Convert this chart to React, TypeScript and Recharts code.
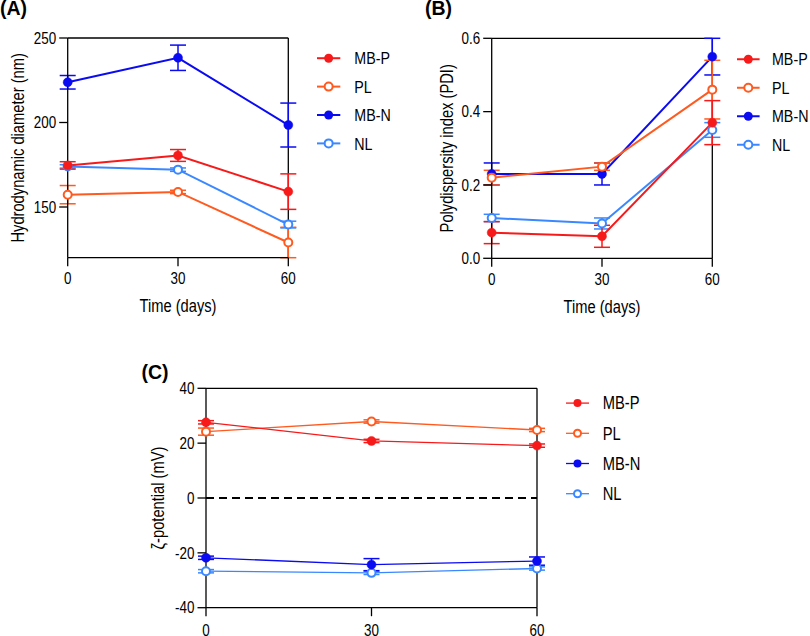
import React from 'react';
import { LineChart, Line, XAxis, YAxis, ErrorBar, ReferenceLine, Legend } from 'recharts';

// Sampling times (days) shared by every panel
const days = [0, 30, 60];

// Formulations, in legend order
const seriesNames = ['MB-P', 'PL', 'MB-N', 'NL'];
const seriesColors = ['#f71a1a', '#ff5a1f', '#0b0bf2', '#3a88ff'];
const seriesHollow = [false, true, false, true];

// (A) Hydrodynamic diameter (nm), mean and SD
const sizeMBP = [174.6, 180.5, 159.1];
const sizeMBPErr = [2.2, 3.5, 10.5];
const sizePL = [157.3, 158.9, 129];
const sizePLErr = [5.4, 1, 9];
const sizeMBN = [223.8, 238.3, 198.5];
const sizeMBNErr = [4, 7.5, 13];
const sizeNL = [174, 172.1, 139.6];
const sizeNLErr = [1, 1, 2];
const sizeTicks = [150, 200, 250];

// (B) Polydispersity index, mean and SD
const pdiMBP = [0.07, 0.06, 0.37];
const pdiMBPErr = [0.03, 0.03, 0.06];
const pdiPL = [0.22, 0.25, 0.46];
const pdiPLErr = [0.02, 0.01, 0.08];
const pdiMBN = [0.23, 0.23, 0.55];
const pdiMBNErr = [0.03, 0.03, 0.05];
const pdiNL = [0.11, 0.095, 0.35];
const pdiNLErr = [0.01, 0.015, 0.02];
const pdiTicks = [0, 0.2, 0.4, 0.6];

// (C) Zeta potential (mV), mean and SD
const zetaMBP = [27.6, 20.8, 19.1];
const zetaMBPErr = [0.6, 0.6, 0.6];
const zetaPL = [24.2, 27.9, 24.8];
const zetaPLErr = [1.3, 0.6, 0.6];
const zetaMBN = [-21.8, -24.3, -23];
const zetaMBNErr = [0.6, 2.2, 1.5];
const zetaNL = [-26.7, -27.3, -25.7];
const zetaNLErr = [0.6, 0.6, 0.6];
const zetaTicks = [-40, -20, 0, 20, 40];

const W = 810;
const H = 636;
const FONT = "'Liberation Sans', Arial, sans-serif";
// horizontal squeeze applied to all plain text (condensed look)
const SX = 0.84;

type Rect = { left: number; top: number; right: number; bottom: number };
type LegendSpec = { x0: number; x1: number; textX: number; y0: number; step: number; fontSize: number; lineW: number; r: number };

type PanelProps = {
  values: number[][];
  errors: number[][];
  yDomain: [number, number];
  yTicks: number[];
  tickFormat?: (v: number) => string;
  yLabel: string;
  yLabelDist: number;
  xLabel?: string;
  xLabelDist?: number;
  rect: Rect;
  legend: LegendSpec;
  lineWidth: number;
  markerR: number;
  zeroLine?: boolean;
  tickLen: number;
  xTickMargin: number;
};

const squeeze = (x: number, y: number) => `translate(${x} ${y}) scale(${SX} 1) translate(${-x} ${-y})`;

const buildRows = (values: number[][], errors: number[][]) =>
  days.map((t, i) => {
    const row: Record<string, number> = { t };
    values.forEach((v, k) => {
      row[`v${k}`] = v[i];
      row[`e${k}`] = errors[k][i];
    });
    return row;
  });

const makeTick = (vertical: boolean, fmt?: (v: number) => string) => (props: any) => {
  const { x, y, payload, textAnchor } = props;
  const label = fmt ? fmt(payload.value) : String(payload.value);
  return (
    <text
      x={x}
      y={y}
      dy={vertical ? '0.355em' : '0.71em'}
      textAnchor={textAnchor}
      fontSize={16}
      fontFamily={FONT}
      fill="#000"
      transform={squeeze(x, y)}
    >
      {label}
    </text>
  );
};

const makeTitle = (text: string, rotate: boolean) => (props: any) => {
  const vb = props.viewBox || { x: 0, y: 0, width: 0, height: 0 };
  const cx = vb.x + vb.width / 2;
  const cy = vb.y + vb.height / 2;
  return (
    <text
      x={0}
      y={0}
      textAnchor="middle"
      dominantBaseline="central"
      fontSize={17.5}
      fontFamily={FONT}
      fill="#000"
      transform={`translate(${cx} ${cy}) ${rotate ? 'rotate(-90)' : ''} scale(${SX} 1)`}
    >
      {text}
    </text>
  );
};

const LegendBox = ({ spec }: { spec: LegendSpec }) => {
  const w = 130;
  const h = spec.step * 4 + 10;
  const ox = spec.x0 - 4;
  const oy = spec.y0 - spec.step / 2;
  const cx = (spec.x0 + spec.x1) / 2 - ox;
  return (
    <svg width={w} height={h} style={{ display: 'block', overflow: 'visible' }}>
      {seriesNames.map((name, i) => {
        const y = spec.y0 + i * spec.step - oy;
        const c = seriesColors[i];
        const tx = spec.textX - ox;
        const ty = y + spec.fontSize * 0.36;
        return (
          <g key={name}>
            <line x1={spec.x0 - ox} x2={spec.x1 - ox} y1={y} y2={y} stroke={c} strokeWidth={spec.lineW} />
            {seriesHollow[i] ? (
              <circle cx={cx} cy={y} r={spec.r - 0.5} fill="#fff" stroke={c} strokeWidth={2} />
            ) : (
              <circle cx={cx} cy={y} r={spec.r} fill={c} />
            )}
            <text x={tx} y={ty} fontSize={spec.fontSize} fontFamily={FONT} fill="#000" transform={squeeze(tx, ty)}>
              {name}
            </text>
          </g>
        );
      })}
    </svg>
  );
};

const Panel = (p: PanelProps) => {
  const rows = buildRows(p.values, p.errors);
  const yAxisW = p.yLabelDist * 2;
  const xAxisH = p.xLabel ? (p.xLabelDist as number) * 2 : 20;
  const margin = {
    top: p.rect.top,
    left: p.rect.left - yAxisW,
    right: W - p.rect.right,
    bottom: H - p.rect.bottom - xAxisH,
  };
  const axisStyle = { stroke: '#000', strokeWidth: 1.3 };
  const order = [3, 2, 1, 0];
  return (
    <div style={{ position: 'absolute', left: 0, top: 0, width: W, height: H }}>
      <LineChart width={W} height={H} data={rows} margin={margin}>
        <XAxis
          dataKey="t"
          type="number"
          domain={[0, 60]}
          ticks={days}
          interval={0}
          axisLine={axisStyle}
          tickLine={axisStyle}
          tickSize={p.tickLen}
          tickMargin={p.xTickMargin}
          tick={makeTick(false)}
          height={xAxisH}
          label={p.xLabel ? { position: 'center', content: makeTitle(p.xLabel, false) } : undefined}
        />
        <YAxis
          type="number"
          domain={p.yDomain}
          ticks={p.yTicks}
          interval={0}
          axisLine={axisStyle}
          tickLine={axisStyle}
          tickSize={p.tickLen}
          tickMargin={3}
          tick={makeTick(true, p.tickFormat)}
          width={yAxisW}
          label={{ position: 'center', content: makeTitle(p.yLabel, true) }}
        />
        <ReferenceLine y={p.yDomain[1]} stroke="#000" strokeWidth={1.3} />
        <ReferenceLine x={60} stroke="#000" strokeWidth={1.3} />
        {p.zeroLine && <ReferenceLine y={0} stroke="#000" strokeWidth={2.2} strokeDasharray="8 5" />}
        {order.map((k) => {
          const c = seriesColors[k];
          const dot = seriesHollow[k]
            ? { r: p.markerR - 0.5, fill: '#fff', stroke: c, strokeWidth: 2 }
            : { r: p.markerR, fill: c, stroke: c, strokeWidth: 0.5 };
          return (
            <Line
              key={k}
              dataKey={`v${k}`}
              name={seriesNames[k]}
              stroke={c}
              strokeWidth={p.lineWidth}
              dot={dot}
              activeDot={false}
              isAnimationActive={false}
            >
              <ErrorBar dataKey={`e${k}`} direction="y" width={8} stroke={c} strokeWidth={1.5} />
            </Line>
          );
        })}
        <Legend
          layout="vertical"
          align="center"
          verticalAlign="middle"
          wrapperStyle={{ left: p.legend.x0 - 4, top: p.legend.y0 - p.legend.step / 2, width: 130 }}
          content={() => <LegendBox spec={p.legend} />}
        />
      </LineChart>
    </div>
  );
};

const PanelTag = ({ x, y, text }: { x: number; y: number; text: string }) => (
  <text x={x} y={y} fontSize={19.5} fontWeight="bold" fontFamily={FONT} fill="#000">
    {text}
  </text>
);

export default function App() {
  return (
    <div style={{ position: 'absolute', left: 0, top: 0, width: W, height: H, background: '#fff', overflow: 'hidden' }}>
      <Panel
        values={[sizeMBP, sizePL, sizeMBN, sizeNL]}
        errors={[sizeMBPErr, sizePLErr, sizeMBNErr, sizeNLErr]}
        yDomain={[120, 250]}
        yTicks={sizeTicks}
        yLabel="Hydrodynamic diameter (nm)"
        yLabelDist={49.7}
        xLabel="Time (days)"
        xLabelDist={48.3}
        rect={{ left: 67.7, top: 38, right: 288.3, bottom: 257.7 }}
        legend={{ x0: 316.7, x1: 340, textX: 354, y0: 58.5, step: 28.4, fontSize: 17, lineW: 2, r: 4.5 }}
        lineWidth={2}
        markerR={4.5}
        tickLen={8.5}
        xTickMargin={6.5}
      />
      <Panel
        values={[pdiMBP, pdiPL, pdiMBN, pdiNL]}
        errors={[pdiMBPErr, pdiPLErr, pdiMBNErr, pdiNLErr]}
        yDomain={[0, 0.6]}
        yTicks={pdiTicks}
        tickFormat={(v: number) => v.toFixed(1)}
        yLabel="Polydispersity index  (PDI)"
        yLabelDist={45}
        xLabel="Time (days)"
        xLabelDist={48}
        rect={{ left: 491.7, top: 38.3, right: 712.3, bottom: 258.3 }}
        legend={{ x0: 736.7, x1: 759.3, textX: 771.7, y0: 59.5, step: 28.5, fontSize: 17, lineW: 2, r: 4.5 }}
        lineWidth={2}
        markerR={4.5}
        tickLen={8.5}
        xTickMargin={6.5}
      />
      <Panel
        values={[zetaMBP, zetaPL, zetaMBN, zetaNL]}
        errors={[zetaMBPErr, zetaPLErr, zetaMBNErr, zetaNLErr]}
        yDomain={[-40, 40]}
        yTicks={zetaTicks}
        yLabel="ζ-potential (mV)"
        yLabelDist={48}
        rect={{ left: 206, top: 388.3, right: 537, bottom: 607.7 }}
        legend={{ x0: 566, x1: 589, textX: 602.7, y0: 403.5, step: 30.2, fontSize: 17.5, lineW: 1.3, r: 4 }}
        lineWidth={1.3}
        markerR={4.5}
        zeroLine
        tickLen={8.5}
        xTickMargin={8}
      />
      <svg width={W} height={H} style={{ position: 'absolute', left: 0, top: 0, pointerEvents: 'none' }}>
        <PanelTag x={0} y={15} text="(A)" />
        <PanelTag x={425} y={15} text="(B)" />
        <PanelTag x={141.5} y={378.5} text="(C)" />
      </svg>
    </div>
  );
}
